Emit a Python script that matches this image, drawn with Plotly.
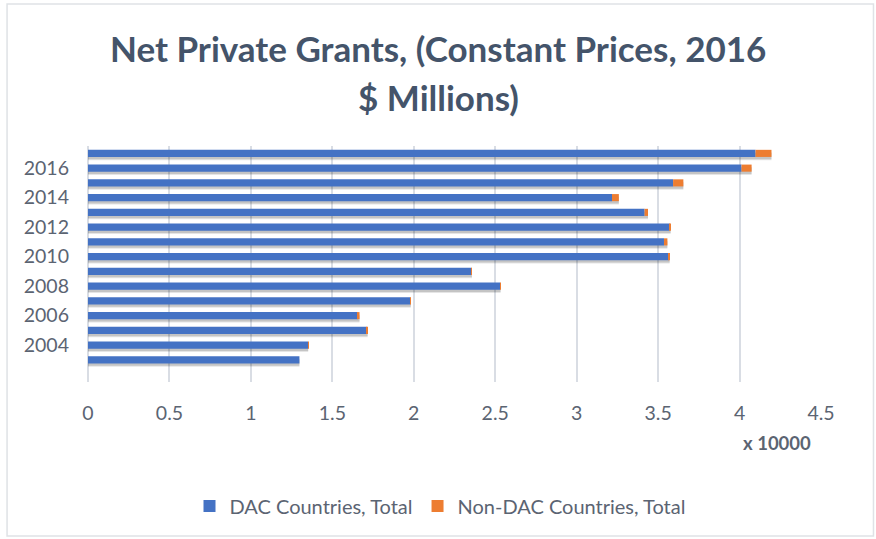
import plotly.graph_objects as go

# Net private grants by year, constant 2016 $ millions
years = [2003, 2004, 2005, 2006, 2007, 2008, 2009, 2010,
         2011, 2012, 2013, 2014, 2015, 2016, 2017]
dac_total = [12980, 13510, 17110, 16550, 19790, 25300, 23540, 35650,
             35360, 35710, 34170, 32170, 35920, 40120, 40980]
non_dac_total = [0, 10, 60, 120, 30, 30, 30, 60,
                 210, 60, 210, 420, 630, 620, 980]

x_tick_vals = [0, 5000, 10000, 15000, 20000, 25000, 30000, 35000, 40000, 45000]
x_tick_text = ["0", "0.5", "1", "1.5", "2", "2.5", "3", "3.5", "4", "4.5"]
y_tick_vals = [2004, 2006, 2008, 2010, 2012, 2014, 2016]

title_lines = ["Net Private Grants, (Constant Prices, 2016", "$ Millions)"]

BLUE = "#4472C4"
ORANGE = "#ED7D31"
TEXT = "#5b6472"
TITLE = "#44546A"
GRID = "#d9dde4"
FONT = "Lato"

bar_w = 0.48
totals = [d + n for d, n in zip(dac_total, non_dac_total)]

fig = go.Figure()

# soft drop shadow under each bar
for shift, alpha in [(-0.22, 0.10), (-0.16, 0.14)]:
    fig.add_trace(go.Bar(
        y=years, x=totals, orientation="h",
        width=bar_w, offset=-bar_w / 2 + shift,
        marker=dict(color=f"rgba(0,0,0,{alpha})", line=dict(width=0)),
        showlegend=False, hoverinfo="skip",
    ))

fig.add_trace(go.Bar(
    y=years, x=dac_total, orientation="h", name="DAC Countries, Total",
    width=bar_w, offset=-bar_w / 2,
    marker=dict(color=BLUE, line=dict(width=0)),
))
fig.add_trace(go.Bar(
    y=years, x=non_dac_total, base=dac_total, orientation="h",
    name="Non-DAC Countries, Total",
    width=bar_w, offset=-bar_w / 2,
    marker=dict(color=ORANGE, line=dict(width=0)),
))

plot_top, plot_bottom = 146, 382
plot_h = plot_bottom - plot_top
annotations = []
for line, ypx in zip(title_lines, [48, 97]):
    annotations.append(dict(
        text=f"<b>{line}</b>", xref="paper", yref="paper",
        x=0.478, y=1 + (plot_top - ypx) / plot_h,
        xanchor="center", yanchor="middle", showarrow=False,
        font=dict(family=FONT, size=35, color=TITLE),
    ))
annotations.append(dict(
    text="<b>x 10000</b>", xref="paper", yref="paper",
    x=(777 - 88) / 733.5, y=(plot_bottom - 443) / plot_h,
    xanchor="center", yanchor="middle", showarrow=False,
    font=dict(family=FONT, size=18.5, color=TEXT),
))

fig.update_layout(
    width=876, height=539,
    margin=dict(l=88, r=54.5, t=plot_top, b=539 - plot_bottom),
    paper_bgcolor="white", plot_bgcolor="white",
    barmode="overlay",
    font=dict(family=FONT, color=TEXT),
    annotations=annotations,
    legend=dict(
        orientation="h", xref="container", yref="container",
        x=440 / 876, y=1 - 506 / 539, xanchor="center", yanchor="middle",
        font=dict(family=FONT, size=20, color=TEXT),
        traceorder="normal", itemwidth=30,
    ),
    shapes=[dict(
        type="rect", xref="paper", yref="paper",
        x0=(7 - 88) / 733.5, x1=(874 - 88) / 733.5,
        y0=(plot_bottom - 536) / plot_h, y1=1 + (plot_top - 4) / plot_h,
        line=dict(color="#dfe2e6", width=1.5), layer="below",
    )],
)

fig.update_xaxes(
    range=[0, 45000], tickvals=x_tick_vals, ticktext=x_tick_text,
    showgrid=True, gridcolor=GRID, gridwidth=1.5,
    zeroline=True, zerolinecolor=GRID, zerolinewidth=1.5,
    showline=False, ticks="", ticklabelstandoff=17,
    tickfont=dict(family=FONT, size=19.5, color=TEXT),
)
fig.update_yaxes(
    range=[2001.5, 2017.5], tickvals=y_tick_vals,
    showgrid=False, zeroline=False, showline=False, ticks="",
    ticklabelstandoff=18,
    tickfont=dict(family=FONT, size=19.5, color=TEXT),
)

fig.write_html("out.html")
